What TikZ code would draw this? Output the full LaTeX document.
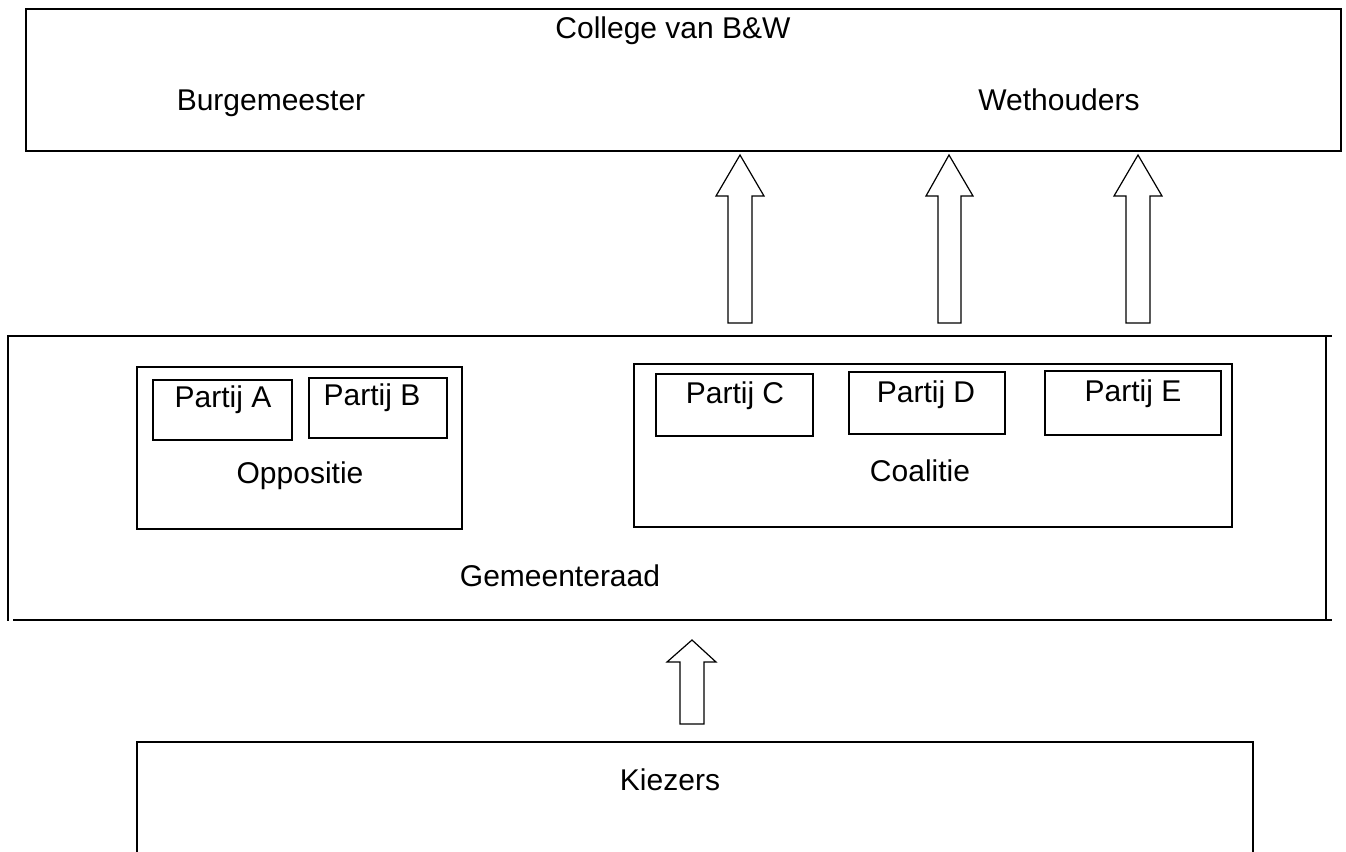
\documentclass[tikz,border=0pt]{standalone}
\usepackage{fontspec}
\setmainfont{Liberation Sans}
\begin{document}
\begin{tikzpicture}[x=0.5pt,y=-0.5pt,font=\fontsize{15}{18}\selectfont,
  outer/.style={line width=1pt},
  frame/.style={line width=0.8pt},
  inner/.style={line width=0.6pt},
  label/.style={anchor=base,inner sep=0pt}]
\useasboundingbox (0,0) rectangle (1346,852);

% college
\draw[outer] (26,9) rectangle (1341,151);
\node[label] (college) at (673,38) {College van B\&W};
\node[label] (burgemeester) at (271,110) {Burgemeester};
\node[label] (wethouders) at (1059,110) {Wethouders};

% block arrows up
\draw[inner] (728,323) -- (728,196) -- (716,196) -- (740,155) -- (764,196) -- (752,196) -- (752,323) -- cycle;
\draw[inner] (938,323) -- (938,196) -- (926,196) -- (949,155) -- (973,196) -- (961,196) -- (961,323) -- cycle;
\draw[inner] (1126,323) -- (1126,196) -- (1114,196) -- (1138,155) -- (1162,196) -- (1150,196) -- (1150,323) -- cycle;

% gemeenteraad
\draw[frame] (7,336) -- (1332,336);
\draw[frame] (8,335) -- (8,621);
\draw[frame] (13,620) -- (1332,620);
\draw[frame] (1326,336) -- (1326,620);
\node[label] (gemeenteraad) at (560,586) {Gemeenteraad};

\draw[frame] (137,367) rectangle (462,529);
\node[label] (oppositie) at (300,483) {Oppositie};
\draw[inner] (153,380) rectangle (292,440);
\node[label] (partijA) at (223,407) {Partij A};
\draw[inner] (309,378) rectangle (447,438);
\node[label] (partijB) at (372,405) {Partij B};

\draw[frame] (634,364) rectangle (1232,527);
\node[label] (coalitie) at (920,481) {Coalitie};
\draw[inner] (656,374) rectangle (813,436);
\node[label] (partijC) at (735,403) {Partij C};
\draw[inner] (849,372) rectangle (1005,434);
\node[label] (partijD) at (926,402) {Partij D};
\draw[inner] (1045,371) rectangle (1221,435);
\node[label] (partijE) at (1133,401) {Partij E};

% kiezers
\draw[inner] (680,724) -- (680,662) -- (667,662) -- (692,640) -- (716,662) -- (704,662) -- (704,724) -- cycle;
\draw[frame] (137,852) -- (137,742) -- (1253,742) -- (1253,852);
\node[label] (kiezers) at (670,790) {Kiezers};
\end{tikzpicture}
\end{document}
